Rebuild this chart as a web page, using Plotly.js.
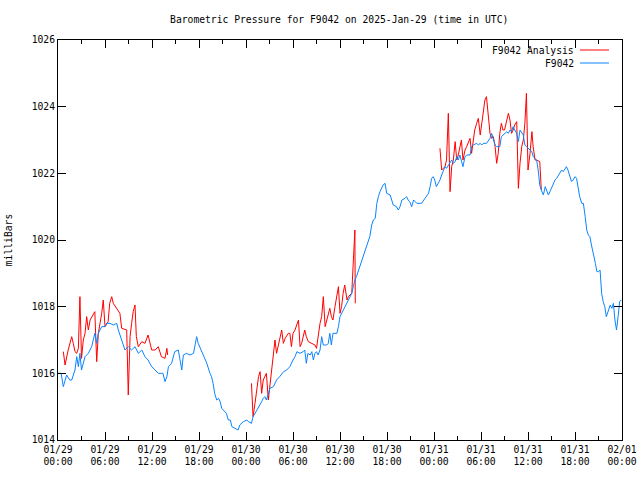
<!DOCTYPE html>
<html>
<head>
<meta charset="utf-8">
<script src="https://cdn.plot.ly/plotly-3.0.1.min.js"></script>
<style>
html,body{margin:0;padding:0;background:#fff;}
</style>
</head>
<body>
<div id="chart" style="width:640px;height:480px;"></div>
<script>
// Hours since 2025-01-29 00:00 UTC
const stationHours = [0.0,0.4,0.68,1.1,1.5,1.75,2.17,2.39,2.6,2.8,3.0,3.45,3.87,4.3,4.5,4.7,4.94,5.15,5.58,6.0,6.2,6.64,7.06,7.5,7.7,8.13,8.35,8.55,8.97,9.4,9.83,10.25,10.7,11.1,11.5,11.96,12.4,12.8,13.2,13.4,13.66,13.9,14.1,14.5,14.9,15.36,15.8,16.0,16.4,16.85,17.3,17.5,17.7,17.9,18.1,18.5,19.0,19.4,19.6,19.8,20.0,20.26,20.5,20.7,20.9,21.1,21.5,21.74,22.0,22.2,22.6,22.8,23.0,23.2,23.66,24.1,24.3,24.7,24.9,25.4,25.8,26.0,26.2,26.4,26.6,26.85,27.06,27.5,27.9,28.3,28.8,29.2,29.6,30.0,30.25,30.5,30.9,31.3,31.5,31.7,31.9,32.2,32.4,32.6,32.8,33.0,33.2,33.45,33.66,33.87,34.3,34.5,34.7,34.9,35.1,35.6,35.8,36.0,36.2,36.4,36.9,37.06,37.5,37.7,37.9,38.1,38.55,38.98,39.4,39.8,40.05,40.25,40.5,40.7,40.9,41.1,41.5,41.75,41.96,42.4,42.6,42.8,43.2,43.45,43.66,43.9,44.3,44.5,44.7,44.9,45.15,45.4,45.6,45.8,46.4,46.85,47.06,47.3,47.5,47.7,47.9,48.1,48.3,48.55,48.76,48.98,49.2,49.4,49.6,50.0,50.26,50.47,50.7,50.9,51.1,51.3,51.5,51.7,51.96,52.2,52.6,52.8,53.0,53.45,53.66,53.9,54.1,54.3,54.7,55.15,55.36,55.6,55.8,56.0,56.4,56.6,56.8,57.07,57.3,57.5,57.7,57.9,58.1,58.3,58.56,58.77,58.98,59.4,59.6,59.8,60.26,60.5,60.66,60.9,61.1,61.3,61.5,61.7,61.96,62.2,62.4,62.6,62.8,63.0,63.2,63.45,63.66,63.9,64.1,64.3,64.5,64.7,64.9,65.1,65.35,65.56,65.77,66.0,66.2,66.4,66.6,66.86,67.07,67.3,67.5,67.7,67.9,68.1,68.3,68.6,68.8,69.0,69.2,69.4,69.6,69.8,70.0,70.3,70.5,70.7,70.9,71.1,71.3,71.5,71.7,71.9];
const stationPressure = [1016.0,1016.0,1015.6,1015.95,1015.8,1015.8,1016.1,1016.5,1016.2,1016.6,1016.1,1016.5,1016.6,1016.8,1017.0,1017.2,1016.9,1017.2,1017.4,1017.4,1017.5,1017.5,1017.45,1017.5,1017.3,1017.0,1016.8,1016.7,1016.8,1016.7,1016.8,1016.6,1016.7,1016.5,1016.4,1016.2,1016.1,1016.0,1016.0,1016.0,1015.75,1015.9,1016.2,1016.3,1016.65,1016.7,1016.1,1016.55,1016.6,1016.55,1016.6,1016.9,1017.1,1016.9,1016.8,1016.6,1016.3,1016.0,1015.9,1015.7,1015.4,1015.2,1015.25,1015.15,1014.95,1014.9,1014.8,1014.6,1014.6,1014.4,1014.35,1014.3,1014.3,1014.45,1014.55,1014.6,1014.55,1014.5,1014.7,1014.9,1015.05,1015.15,1015.25,1015.3,1015.2,1015.4,1015.55,1015.6,1015.8,1015.9,1016.05,1016.1,1016.2,1016.4,1016.5,1016.65,1016.6,1016.65,1016.7,1016.3,1016.6,1016.55,1016.65,1016.4,1016.6,1016.65,1016.55,1016.7,1017.1,1016.85,1016.85,1016.9,1017.2,1016.85,1017.2,1017.2,1017.4,1017.7,1017.8,1017.9,1018.1,1018.2,1018.4,1018.6,1018.8,1018.9,1019.2,1019.5,1019.8,1020.1,1020.45,1020.6,1020.65,1021.1,1021.3,1021.45,1021.65,1021.7,1021.4,1021.35,1021.2,1021.05,1021.0,1020.9,1021.0,1021.2,1021.25,1021.3,1021.2,1021.15,1021.0,1021.2,1021.15,1021.1,1021.1,1021.25,1021.35,1021.4,1021.6,1021.85,1021.9,1021.8,1021.6,1021.7,1021.8,1021.95,1022.1,1022.2,1022.15,1022.3,1022.4,1022.3,1022.35,1022.5,1022.4,1022.55,1022.35,1022.2,1022.5,1022.55,1022.55,1022.8,1022.85,1022.9,1022.85,1022.9,1022.85,1022.9,1022.9,1023.05,1023.2,1023.0,1022.85,1022.8,1022.8,1023.1,1023.15,1023.2,1023.25,1023.2,1023.3,1023.25,1023.4,1023.3,1023.2,1022.95,1023.3,1023.15,1022.85,1022.8,1022.7,1022.65,1022.5,1022.45,1022.4,1022.1,1021.65,1021.5,1021.35,1021.6,1021.5,1021.35,1021.45,1021.55,1021.7,1021.8,1021.85,1021.95,1022.0,1022.1,1022.05,1022.15,1022.2,1022.1,1021.9,1021.75,1021.8,1021.9,1021.85,1021.6,1021.3,1021.1,1021.1,1020.7,1020.3,1020.15,1020.1,1019.85,1019.65,1019.3,1019.05,1019.05,1019.1,1018.4,1018.15,1018.0,1017.7,1017.95,1018.05,1017.95,1018.1,1017.6,1017.3,1017.7,1018.15,1018.2];

// Analysis series: three segments, separated by null gaps
const analysisHours = [0.68,0.9,1.3,1.75,1.95,2.17,2.39,2.6,2.8,3.0,3.23,3.45,3.66,3.87,4.1,4.3,4.7,4.94,5.15,5.58,5.78,6.0,6.4,6.6,6.86,7.06,7.5,7.9,8.13,8.77,8.97,9.2,9.4,9.6,9.83,10.0,10.25,10.7,11.1,11.5,11.96,12.4,12.8,13.2,13.66,13.9,14.0,
  19.0,
  24.7,24.9,25.15,25.4,25.6,25.8,26.0,26.2,26.4,26.6,26.85,27.06,27.3,27.5,27.7,27.9,28.1,28.3,28.56,28.77,29.0,29.4,29.6,29.8,30.0,30.25,30.5,30.7,30.9,31.1,31.5,31.7,31.96,32.4,32.8,33.0,33.2,33.45,33.66,33.87,34.1,34.3,34.5,34.7,34.9,35.1,35.36,35.6,35.8,36.0,36.2,36.4,36.6,36.9,37.06,37.5,37.7,37.9,37.95,
  43.0,
  48.76,48.98,49.4,49.6,49.83,50.05,50.26,50.47,50.7,50.9,51.1,51.3,51.5,51.7,51.96,52.17,52.4,52.6,52.8,53.0,53.2,53.45,53.66,53.9,54.1,54.3,54.5,54.7,54.9,55.15,55.36,55.57,55.8,56.0,56.2,56.4,56.6,56.8,57.0,57.3,57.5,57.7,57.9,58.1,58.3,58.56,58.77,58.98,59.2,59.4,59.6,59.8,60.0,60.26,60.5,60.66,60.9,61.1,61.5,61.7];
const analysisPressure = [1016.65,1016.25,1016.7,1017.1,1016.9,1016.65,1016.6,1016.75,1018.3,1016.45,1017.0,1017.2,1017.7,1017.3,1017.6,1017.7,1017.85,1016.35,1017.2,1017.8,1018.2,1017.4,1017.55,1018.1,1018.3,1018.1,1017.95,1017.8,1017.35,1017.3,1015.35,1017.1,1017.5,1017.85,1018.05,1017.1,1016.8,1016.95,1016.9,1017.15,1016.7,1016.7,1016.8,1016.5,1016.45,1016.75,1016.55,
  null,
  1015.7,1014.7,1015.1,1015.5,1015.9,1016.05,1015.4,1015.8,1015.9,1016.0,1015.2,1015.7,1016.2,1016.6,1017.0,1016.6,1016.8,1017.05,1017.3,1016.9,1017.05,1017.2,1017.2,1016.8,1017.2,1017.3,1017.5,1017.6,1016.8,1016.9,1017.3,1017.1,1016.95,1016.9,1016.85,1016.75,1017.15,1017.5,1017.7,1018.3,1017.4,1017.6,1017.8,1017.95,1017.7,1017.6,1018.0,1018.3,1018.6,1017.8,1018.0,1018.4,1018.65,1018.2,1018.3,1018.4,1019.35,1020.3,1018.1,
  null,
  1022.75,1022.1,1022.2,1022.4,1023.8,1021.45,1022.2,1022.4,1022.95,1022.4,1022.55,1022.8,1023.0,1022.4,1022.7,1022.8,1022.95,1023.05,1022.6,1022.95,1023.3,1023.5,1023.65,1023.15,1023.55,1023.8,1024.2,1024.3,1023.8,1023.2,1023.05,1023.1,1022.8,1022.3,1022.6,1023.2,1023.5,1023.3,1023.3,1023.6,1023.8,1023.6,1023.2,1023.3,1023.45,1023.55,1021.55,1022.3,1022.8,1023.0,1023.5,1024.4,1022.1,1022.6,1023.25,1022.8,1022.4,1022.4,1022.35,1021.5];

const tickHours = [0,6,12,18,24,30,36,42,48,54,60,66,72];
const tickLabels = ["01/29<br>00:00","01/29<br>06:00","01/29<br>12:00","01/29<br>18:00","01/30<br>00:00","01/30<br>06:00","01/30<br>12:00","01/30<br>18:00","01/31<br>00:00","01/31<br>06:00","01/31<br>12:00","01/31<br>18:00","02/01<br>00:00"];
const yTicks = [1014,1016,1018,1020,1022,1024,1026];
const seriesNames = ["F9042 Analysis","F9042"];
const seriesColors = ["#ff0000","#0a84ff"];

const FONT = "DejaVu Sans Mono, monospace";

const traces = [
  {x: analysisHours, y: analysisPressure, mode: "lines", name: seriesNames[0],
   line: {color: seriesColors[0], width: 1}, connectgaps: false, showlegend: false},
  {x: stationHours, y: stationPressure, mode: "lines", name: seriesNames[1],
   line: {color: seriesColors[1], width: 1}, showlegend: false}
];

const axisCommon = {
  showgrid: false, zeroline: false, showline: true, linecolor: "#000", linewidth: 1,
  mirror: "ticks", ticks: "inside", tickcolor: "#000", tickwidth: 1, ticklen: 8,
  tickfont: {family: FONT, size: 9.7, color: "#000"}
};

const layout = {
  width: 640, height: 480,
  margin: {l: 58, r: 18, t: 40, b: 40, pad: 0},
  paper_bgcolor: "#fff", plot_bgcolor: "#fff",
  showlegend: false,
  title: {text: "Barometric Pressure for F9042 on 2025-Jan-29 (time in UTC)",
          font: {family: FONT, size: 9.7, color: "#000"},
          x: 0.53, xanchor: "center", y: 0.96, yanchor: "middle"},
  xaxis: Object.assign({}, axisCommon, {
    range: [0, 72], tickmode: "array", tickvals: tickHours, ticktext: tickLabels,
    minor: {dtick: 3, tick0: 0, ticks: "inside", ticklen: 4, tickcolor: "#000", showgrid: false}
  }),
  yaxis: Object.assign({}, axisCommon, {
    range: [1014, 1026], tickmode: "array", tickvals: yTicks, ticktext: yTicks.map(String),
    title: {text: "milliBars", font: {family: FONT, size: 9.7, color: "#000"}, standoff: 17}
  }),
  annotations: [
    {xref: "paper", yref: "paper", x: 0.919, y: 0.975, xanchor: "right", yanchor: "middle",
     text: seriesNames[0], showarrow: false, font: {family: FONT, size: 9.7, color: "#000"}},
    {xref: "paper", yref: "paper", x: 0.919, y: 0.9425, xanchor: "right", yanchor: "middle",
     text: seriesNames[1], showarrow: false, font: {family: FONT, size: 9.7, color: "#000"}}
  ],
  shapes: [
    {type: "line", xref: "paper", yref: "paper", x0: 0.9255, x1: 0.977, y0: 0.975, y1: 0.975,
     line: {color: seriesColors[0], width: 1}},
    {type: "line", xref: "paper", yref: "paper", x0: 0.9255, x1: 0.977, y0: 0.9425, y1: 0.9425,
     line: {color: seriesColors[1], width: 1}}
  ]
};

Plotly.newPlot("chart", traces, layout, {staticPlot: true, displayModeBar: false});
</script>
</body>
</html>
